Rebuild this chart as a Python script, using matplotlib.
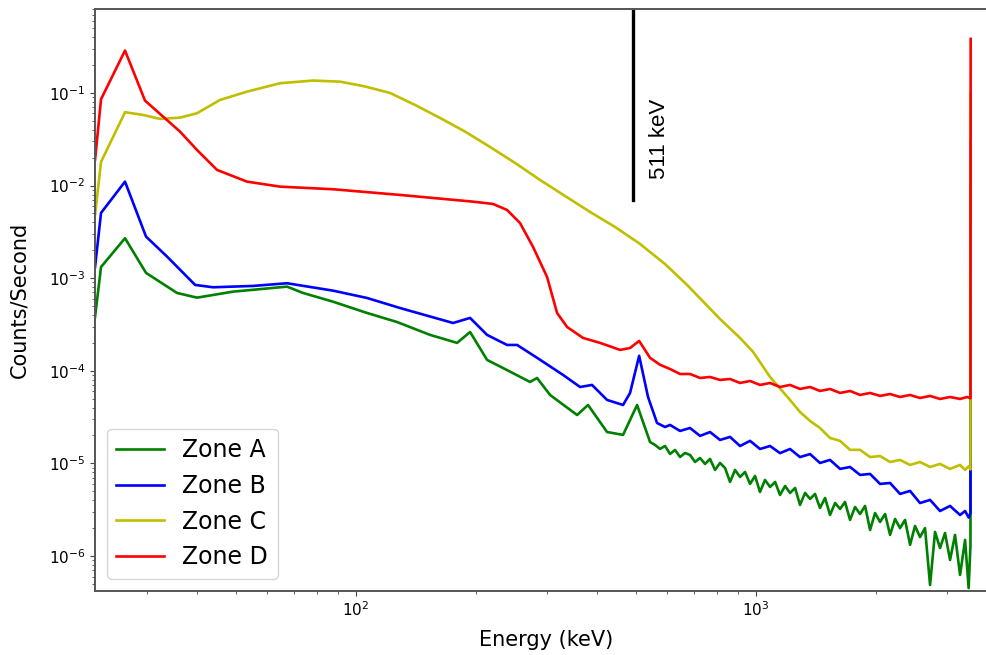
import matplotlib
matplotlib.use("Agg")
import matplotlib.pyplot as plt
from matplotlib.ticker import NullFormatter, LogLocator

# ---------------- data ----------------
energy_A = [22.26, 23.04, 26.45, 29.85, 35.68, 40.04, 49.26, 67.22, 73.71, 87.6,
            106.5, 126.6, 153.1, 178.9, 192.8, 212.6, 233.1, 272.3, 283.5, 305.5,
            356.9, 380.2, 424.2, 465.1, 504.2, 543.3,
            559.2, 575.4, 592.2, 609.5, 627.3, 645.7, 664.6, 683.9, 704.0, 724.4,
            745.6, 767.4, 789.8, 812.8, 836.6, 861.0, 886.2, 912.0, 938.7, 966.1,
            994.3, 1023, 1053, 1084, 1116, 1148, 1182, 1216, 1252, 1288,
            1326, 1365, 1404, 1445, 1488, 1531, 1576, 1622, 1669, 1718,
            1768, 1820, 1873, 1928, 1984, 2042, 2102, 2163, 2226, 2291,
            2358, 2427, 2497, 2570, 2645, 2723, 2802, 2884, 2968, 3055,
            3144, 3236, 3331, 3400, 3436, 3440]
counts_A = [3.81e-4, 1.32e-3, 2.70e-3, 1.14e-3, 6.92e-4, 6.16e-4, 7.15e-4, 8.10e-4, 6.92e-4, 5.57e-4,
            4.21e-4, 3.36e-4, 2.44e-4, 2.00e-4, 2.62e-4, 1.31e-4, 1.07e-4, 7.57e-5, 8.36e-5, 5.48e-5,
            3.33e-5, 4.27e-5, 2.18e-5, 2.03e-5, 4.27e-5, 1.70e-5,
            1.581e-5, 1.432e-5, 1.542e-5, 1.264e-5, 1.396e-5, 1.172e-5, 1.294e-5, 1.233e-5, 1.035e-5, 1.143e-5,
            9.86e-6, 1.117e-5, 8.49e-6, 1.01e-5, 8.91e-6, 6.30e-6, 8.49e-6, 7.13e-6, 8.07e-6, 6.00e-6,
            7.31e-6, 4.91e-6, 6.62e-6, 5.56e-6, 6.30e-6, 4.56e-6, 5.70e-6, 4.79e-6, 5.42e-6, 3.56e-6,
            4.79e-6, 4.13e-6, 4.68e-6, 3.30e-6, 4.23e-6, 2.77e-6, 3.73e-6, 3.22e-6, 3.83e-6, 2.45e-6,
            3.38e-6, 2.84e-6, 3.47e-6, 1.91e-6, 2.91e-6, 2.33e-6, 2.84e-6, 1.69e-6, 2.51e-6, 2.00e-6,
            2.45e-6, 1.32e-6, 2.11e-6, 1.60e-6, 2.00e-6, 4.86e-7, 1.82e-6, 1.22e-6, 1.77e-6, 9.05e-7,
            1.69e-6, 6.24e-7, 1.49e-6, 4.5e-7, 1.3e-6, 1.0e-2]

energy_B = [22.26, 23.04, 26.45, 29.85, 33.69, 39.6, 43.9, 55.27, 67.22, 87.6,
            106.5, 128.8, 174.8, 192.8, 212.6, 238.5, 252.7, 283.5, 329.3, 363.1,
            389.0, 424.2, 465.1, 484.2, 510.2, 537.0, 565.6,
            592.2, 609.5, 645.7, 683.9, 724.4, 767.4, 812.8, 861.0, 912.0, 966.1,
            1023, 1084, 1148, 1216, 1288, 1365, 1445, 1531, 1622, 1718,
            1820, 1928, 2042, 2163, 2291, 2427, 2570, 2723, 2884, 3055,
            3236, 3331, 3400, 3436, 3440]
counts_B = [1.32e-3, 5.06e-3, 1.102e-2, 2.81e-3, 1.71e-3, 8.45e-4, 7.97e-4, 8.24e-4, 8.81e-4, 7.33e-4,
            6.11e-4, 4.76e-4, 3.28e-4, 3.72e-4, 2.44e-4, 1.90e-4, 1.90e-4, 1.38e-4, 9.01e-5, 6.68e-5,
            7.03e-5, 4.84e-5, 4.27e-5, 5.76e-5, 1.45e-4, 5.21e-5, 2.73e-5,
            2.47e-5, 2.60e-5, 2.24e-5, 2.41e-5, 1.98e-5, 2.18e-5, 1.79e-5, 1.93e-5, 1.54e-5, 1.75e-5,
            1.43e-5, 1.54e-5, 1.29e-5, 1.43e-5, 1.17e-5, 1.26e-5, 1.01e-5, 1.09e-5, 8.71e-6, 9.14e-6,
            7.50e-6, 7.69e-6, 6.00e-6, 6.14e-6, 4.68e-6, 5.04e-6, 3.73e-6, 4.03e-6, 3.06e-6, 3.47e-6,
            2.77e-6, 3.06e-6, 2.6e-6, 2.9e-6, 3.0e-2]

energy_C = [22.26, 23.04, 26.45, 29.34, 32.36, 36.31, 40.04, 45.71, 53.40, 64.57,
            78.07, 91.2, 105.3, 121.6, 140.4, 162.2, 187.4, 216.3, 249.8, 288.4,
            332.7, 384.6, 444.1, 512.9, 592.2, 672.3, 812.8, 912.0, 982.9, 1084, 1216,
            1288, 1365, 1445, 1531, 1622, 1718, 1820, 1928, 2042, 2163,
            2291, 2427, 2570, 2723, 2884, 3055, 3236, 3331, 3400, 3436, 3440]
counts_C = [4.81e-3, 1.80e-2, 6.19e-2, 5.79e-2, 5.24e-2, 5.41e-2, 6.04e-2, 8.40e-2, 0.1033, 0.1273,
            0.136, 0.1324, 0.1175, 0.100, 0.0742, 0.0537, 0.0382, 0.0261, 0.01754, 0.01149,
            0.00773, 0.00519, 0.00357, 0.00234, 0.00142, 8.45e-4, 3.62e-4, 2.26e-4, 1.60e-4, 8.57e-5, 4.84e-5,
            3.59e-5, 2.87e-5, 2.41e-5, 1.88e-5, 1.75e-5, 1.40e-5, 1.40e-5, 1.17e-5, 1.20e-5, 1.035e-5,
            1.09e-5, 9.62e-6, 1.035e-5, 9.14e-6, 9.86e-6, 8.71e-6, 9.62e-6, 8.49e-6, 9.3e-6, 8.6e-6, 0.1]

energy_D = [22.26, 23.04, 26.45, 29.68, 36.31, 40.04, 44.93, 53.40, 64.57, 87.6,
            128.8, 196.1, 220.0, 238.5, 257.0, 277.1, 300.3, 318.1, 337.0, 369.5,
            407.4, 457.1, 484.2, 510.2, 543.3, 575.4,
            609.5, 645.7, 683.9, 724.4, 767.4, 812.8, 861.0, 912.0, 966.1, 1023,
            1084, 1148, 1216, 1288, 1365, 1445, 1531, 1622, 1718, 1820,
            1928, 2042, 2163, 2291, 2427, 2570, 2723, 2884, 3055, 3236,
            3370, 3436, 3440]
counts_D = [0.0189, 0.0855, 0.287, 0.0826, 0.0382, 0.0242, 0.01474, 0.01102, 0.00973, 0.00912,
            0.00792, 0.00670, 0.00633, 0.00545, 0.00394, 0.00217, 0.00103, 4.21e-4, 2.97e-4, 2.26e-4,
            2.00e-4, 1.68e-4, 1.76e-4, 2.10e-4, 1.38e-4, 1.16e-4,
            1.045e-4, 9.23e-5, 9.23e-5, 8.36e-5, 8.57e-5, 7.96e-5, 8.15e-5, 7.38e-5, 7.76e-5, 7.03e-5,
            7.38e-5, 6.68e-5, 7.03e-5, 6.36e-5, 6.68e-5, 6.05e-5, 6.36e-5, 5.76e-5, 6.05e-5, 5.48e-5,
            5.76e-5, 5.35e-5, 5.61e-5, 5.21e-5, 5.48e-5, 5.08e-5, 5.35e-5, 4.96e-5, 5.21e-5, 4.96e-5,
            5.21e-5, 5.05e-5, 0.383]

series_labels = ["Zone A", "Zone B", "Zone C", "Zone D"]
series_colors = ["g", "b", "y", "r"]

marker_energy = 493          # position of the drawn "511 keV" marker line
marker_bottom = 7.0e-3
marker_text = "511 keV"

# ---------------- figure ----------------
fig = plt.figure(figsize=(9.87, 6.55), dpi=100)
ax = fig.add_axes([0.0963, 0.0982, 0.9137, 0.8876])

for e, c, lab, col in zip([energy_A, energy_B, energy_C, energy_D],
                          [counts_A, counts_B, counts_C, counts_D],
                          series_labels, series_colors):
    ax.plot(e, c, color=col, lw=1.9, label=lab)

ax.set_xscale("log")
ax.set_yscale("log")
ax.set_xlim(22.26, 4000)
ax.set_ylim(4.22e-7, 0.80)
ax.set_xticks([100, 1000])
ax.xaxis.set_minor_locator(LogLocator(base=10, subs=range(2, 10)))
ax.xaxis.set_minor_formatter(NullFormatter())
ax.set_yticks([1e-6, 1e-5, 1e-4, 1e-3, 1e-2, 1e-1])
ax.yaxis.set_minor_locator(LogLocator(base=10, subs=range(2, 10)))
ax.yaxis.set_minor_formatter(NullFormatter())

ax.plot([marker_energy, marker_energy], [marker_bottom, 5.0], color="black", lw=2.4)
ax.text(575, 0.0319, marker_text, rotation=90, ha="center", va="center",
        fontsize=16, family="Liberation Sans", color="black")

ax.set_xlabel("Energy (keV)", fontsize=15, labelpad=8)
ax.set_ylabel("Counts/Second", fontsize=15, labelpad=14)
ax.tick_params(axis="both", which="major", labelsize=11, color="#444444")
ax.tick_params(axis="both", which="minor", color="#444444")
for s in ax.spines.values():
    s.set_color("#555555")
    s.set_linewidth(1.4)

ax.legend(loc="lower left", fontsize=17)

fig.savefig("out.png", dpi=100)
